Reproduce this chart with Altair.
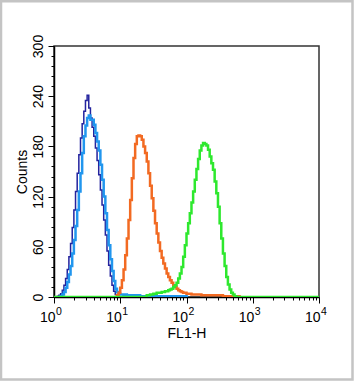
import altair as alt
import pandas as pd

STEP = 0.025  # bin width in decades (log10 units)

# Histogram counts per series: first bin position (log10 of FL1-H) and counts per bin
navy_start = 0.05
navy_counts = [1, 2, 4, 8, 14, 22, 33, 48, 64, 83, 104, 126, 148, 170, 190, 207, 222,
               235, 241, 226, 214, 203, 192, 178, 163, 146, 128, 110, 92, 74, 55, 38,
               25, 14, 7, 3, 1]

lblue_start = 0.10
lblue_counts = [1, 3, 6, 11, 18, 27, 37, 52, 68, 85, 104, 126, 148, 172, 192, 205, 214,
                217, 212, 212, 206, 196, 186, 175, 158, 140, 120, 100, 80, 62, 45, 31,
                19, 10, 6, 4, 3,
                3, 2, 3, 2, 2, 2, 2, 1, 2, 1, 2, 1, 1, 1, 1, 1, 1, 1, 1, 1, 1, 1, 1, 1,
                1, 1, 1, 1, 1, 1, 1, 1, 1, 1, 1, 1, 1, 1, 1]

orange_start = 0.95
orange_counts = [2, 5, 11, 20, 33, 50, 70, 92, 116, 142, 166, 183, 192, 193, 192, 188,
                 180, 172, 162, 148, 133, 118, 103, 88, 76, 65, 55, 47, 40, 34, 28, 24,
                 20, 17, 14, 12, 10, 8, 7, 6, 5, 5, 4,
                 4, 4, 3, 3, 3, 3, 3, 3, 2, 2, 2, 2, 2, 2, 2, 2, 2, 2, 2, 2, 2, 1, 1, 1,
                 1, 1, 1, 1, 1, 1, 1]

green_start = 1.40
green_counts = [2, 2, 3, 3, 4, 4, 5, 5, 5, 6, 6, 7, 7, 8, 9, 10, 12, 14, 17, 22, 28, 36,
                48, 62, 76, 88, 100, 113, 126, 140, 153, 165, 175, 181, 184, 183, 181,
                176, 168, 160, 152, 138, 124, 108, 88, 70, 52, 37, 24, 15, 9, 5, 3, 1]

x_major = [1, 10, 100, 1000, 10000]
x_exponents = ["0", "1", "2", "3", "4"]
x_minor_mult = [2, 3, 4, 5, 6, 7, 8, 9]
y_ticks = list(range(0, 301, 12))

FONT = "Liberation Sans"


def series_rows(start, counts, full_baseline=False):
    pts = []
    if full_baseline:
        pts.append((0.0, 0))
    else:
        pts.append((start - STEP, 0))
    for i, c in enumerate(counts):
        pts.append((start + i * STEP, c))
    end = start + len(counts) * STEP
    pts.append((end, 0))
    if full_baseline:
        pts.append((4.0, 0))
    else:
        pts.append((end + STEP, 0))
    return pd.DataFrame({"x": [10 ** p for p, _ in pts],
                         "count": [c for _, c in pts],
                         "i": list(range(len(pts)))})


x_values = []
for d in x_major[:-1]:
    x_values.append(d)
    x_values += [d * m for m in x_minor_mult]
x_values.append(x_major[-1])

x_axis = alt.Axis(
    values=x_values, grid=False, labels=False,
    tickSize={"condition": {"test": "indexof([1,10,100,1000,10000], datum.value) >= 0",
                            "value": 6}, "value": 3},
    tickColor="black", tickWidth=1, domainColor="black", domainWidth=1.5,
    title="FL1-H", titleFont=FONT, titleFontSize=14, titleFontWeight="normal",
    titleColor="black", titlePadding=23,
)
y_axis = alt.Axis(
    values=y_ticks, labelExpr="datum.value % 60 == 0 ? datum.label : ''", grid=False,
    tickSize={"condition": {"test": "datum.value % 60 == 0", "value": 6}, "value": 3},
    tickColor="black", tickWidth=1, domainColor="black", domainWidth=1.5,
    labelFont=FONT, labelFontSize=14, labelColor="black", labelAngle=270,
    labelAlign="center", labelBaseline="bottom", labelPadding=3,
    labelFlush=False, labelOverlap=False,
    title="Counts", titleFont=FONT, titleFontSize=14, titleFontWeight="normal",
    titleColor="black", titlePadding=2,
)

x_scale = alt.Scale(type="log", domain=[1, 10000], nice=False)
x_enc = alt.X("x:Q", scale=x_scale, axis=x_axis)
y_enc = alt.Y("count:Q", scale=alt.Scale(domain=[0, 300], nice=False), axis=y_axis)


def hist_layer(df, color, width):
    return alt.Chart(df).mark_line(interpolate="step-after", color=color,
                                   strokeWidth=width, clip=True).encode(
        x=x_enc, y=y_enc, order=alt.Order("i:Q"))


frame = alt.Chart(alt.Data(values=[{"a": 1}])).mark_rect(
    fill="white", fillOpacity=0, stroke="#c4c4c4", strokeWidth=2.5
).encode(x=alt.value(-53), x2=alt.value(298.5), y=alt.value(-44.8), y2=alt.value(333.5))

labels_df = pd.DataFrame({"x": x_major, "e": x_exponents})
base_labels = alt.Chart(labels_df).mark_text(
    text="10", font=FONT, fontSize=14, color="black", align="right",
    baseline="alphabetic", dx=1.5
).encode(x=alt.X("x:Q", scale=x_scale, axis=x_axis), y=alt.value(275.7))
exp_labels = alt.Chart(labels_df).mark_text(
    font=FONT, fontSize=10.5, color="black", align="left",
    baseline="alphabetic", dx=2
).encode(x=alt.X("x:Q", scale=x_scale, axis=x_axis), y=alt.value(269), text="e:N")

chart = alt.layer(
    frame,
    hist_layer(series_rows(navy_start, navy_counts), "#23239e", 1.5),
    hist_layer(series_rows(lblue_start, lblue_counts), "#2196ee", 2.5),
    hist_layer(series_rows(orange_start, orange_counts), "#f26a22", 2.5),
    hist_layer(series_rows(green_start, green_counts, full_baseline=True), "#2ee82e", 2.5),
    base_labels,
    exp_labels,
).properties(
    width=265, height=251,
    autosize=alt.AutoSizeParams(type="none"),
    padding={"left": 54, "top": 46, "right": 36, "bottom": 84},
    background="white",
).configure_view(stroke="#333333", strokeWidth=1.5)

chart.save("out.html", embed_options={"renderer": "svg", "actions": False})
